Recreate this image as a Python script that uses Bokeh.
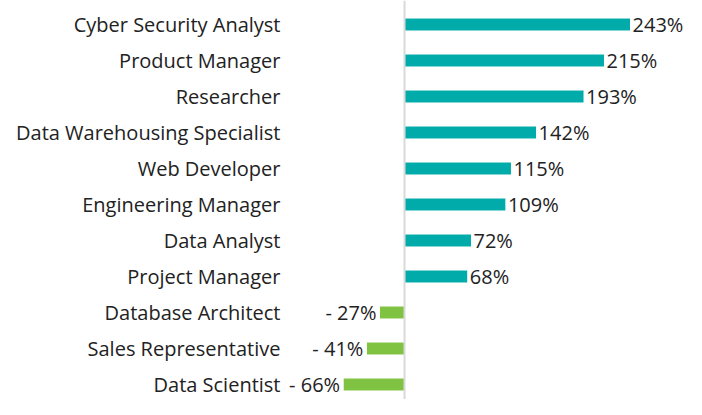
from bokeh.plotting import figure
from bokeh.models import ColumnDataSource, Range1d, FixedTicker, Span
from bokeh.core.properties import value
from bokeh.embed import file_html
from bokeh.resources import INLINE

categories = ["Cyber Security Analyst", "Product Manager", "Researcher",
              "Data Warehousing Specialist", "Web Developer", "Engineering Manager",
              "Data Analyst", "Project Manager", "Database Architect",
              "Sales Representative", "Data Scientist"]
growth = [243, 215, 193, 142, 115, 109, 72, 68, -27, -41, -66]

n = len(categories)
ypos = [n - 1 - i for i in range(n)]
colors = ["#00ABA9" if v >= 0 else "#80C342" for v in growth]
labels = [f"{v}%" if v >= 0 else f"- {abs(v)}%" for v in growth]

src = ColumnDataSource(dict(y=ypos, v=growth, c=colors, t=labels,
                            align=["left" if v >= 0 else "right" for v in growth],
                            xo=[2 if v >= 0 else -3 for v in growth]))

p = figure(width=686, height=399, output_backend="svg", toolbar_location=None,
           x_range=Range1d(-132.3, 303.2), y_range=Range1d(-0.4167, 10.667),
           x_axis_type=None, min_border_left=281, min_border_right=0,
           min_border_top=0, min_border_bottom=0)
p.outline_line_color = None
p.xgrid.visible = False
p.ygrid.visible = False
p.background_fill_color = "white"

p.add_layout(Span(location=0, dimension="height", line_color="#D9D9D9", line_width=2))

p.hbar(y="y", left=0, right="v", height=0.36, fill_color="c", line_color="white",
       line_width=1, source=src)

p.text(x="v", y="y", text="t", text_align="align", text_baseline="middle",
       x_offset="xo", text_font=value("Open Sans"), text_font_size="20px",
       text_color="#222222", source=src)

ax = p.yaxis[0]
ax.ticker = FixedTicker(ticks=ypos)
ax.major_label_overrides = {y: c for y, c in zip(ypos, categories)}
ax.axis_line_color = None
ax.major_tick_line_color = None
ax.minor_tick_line_color = None
ax.major_tick_out = 0
ax.major_tick_in = 0
ax.major_label_standoff = 1
ax.major_label_text_font = "Open Sans"
ax.major_label_text_font_size = "20px"
ax.major_label_text_color = "#222222"

open("out.html", "w").write(file_html(p, INLINE))
